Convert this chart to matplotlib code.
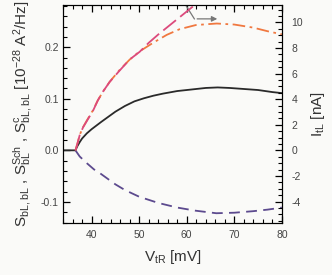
import matplotlib
matplotlib.use('Agg')
import matplotlib.pyplot as plt
from matplotlib.ticker import MultipleLocator

plt.rcParams['font.family'] = ['Liberation Sans', 'DejaVu Sans']
plt.rcParams['mathtext.fontset'] = 'custom'
plt.rcParams['mathtext.rm'] = 'Liberation Sans'
plt.rcParams['mathtext.default'] = 'regular'
plt.rcParams['axes.unicode_minus'] = False

# Data
v_black = [34.0, 36.6, 37.0, 37.5, 38.0, 39.0, 40.0, 41.0, 42.0, 43.5, 45.0, 47.0, 49.0,
           51.0, 53.0, 55.0, 58.0, 61.0, 64.0, 66.5, 69.0, 72.0, 75.0, 78.0, 80.0]
s_black = [0.0, 0.0, 0.008, 0.016, 0.023, 0.033, 0.041, 0.048, 0.055, 0.065, 0.075, 0.086, 0.095,
           0.101, 0.106, 0.110, 0.115, 0.118, 0.121, 0.122, 0.121, 0.119, 0.117, 0.113, 0.111]

v_purple = [36.6, 37.5, 39.0, 40.5, 41.7, 43.5, 45.0, 47.0, 50.0, 54.0, 58.0,
            61.8, 66.2, 70.0, 74.0, 77.0, 80.0]
s_purple = [0.0, -0.012, -0.025, -0.037, -0.044, -0.056, -0.066, -0.077, -0.090, -0.102, -0.111,
            -0.117, -0.122, -0.121, -0.118, -0.115, -0.111]

v_orange = [36.6, 37.0, 37.5, 38.2, 39.0, 40.3, 41.3, 42.4, 43.8, 45.8, 48.0, 50.1, 53.0,
            55.8, 58.5, 61.9, 66.3, 70.0, 74.0, 77.0, 80.0]
s_orange = [0.0, 0.013, 0.030, 0.045, 0.058, 0.078, 0.097, 0.114, 0.133, 0.155, 0.176, 0.192, 0.209,
            0.224, 0.235, 0.243, 0.246, 0.244, 0.238, 0.231, 0.225]

v_pink = [36.6, 37.0, 37.5, 38.2, 39.0, 40.3, 41.3, 42.4, 43.8, 45.8, 48.0, 50.1,
          52.0, 54.0, 56.0, 58.0, 60.0, 62.0]
i_pink = [0.0, 0.5, 1.2, 1.8, 2.3, 3.1, 3.9, 4.6, 5.35, 6.2, 7.1, 7.7,
          8.4, 9.05, 9.65, 10.25, 10.85, 11.45]

# Plot
fig = plt.figure(figsize=(3.32, 2.75), dpi=100, facecolor='#fafaf8')
ax = fig.add_axes([0.19, 0.189, 0.659, 0.793])
ax.set_facecolor('#fafaf8')
ax2 = ax.twinx()

ax.plot(v_black, s_black, color='#2a2a2a', lw=1.3)
ax.plot(v_purple, s_purple, color='#5c4a8e', lw=1.3, dashes=(6, 3.5))
ax.plot(v_orange, s_orange, color='#f07840', lw=1.3, dashes=(7, 2.5, 1.5, 2.5))
ax2.plot(v_pink, i_pink, color='#dc4a7c', lw=1.3, dashes=(9, 3))

ax.set_xlim(34, 80)
ax.set_ylim(-0.141, 0.282)
ax2.set_ylim(-5.67, 11.36)

ax.xaxis.set_major_locator(MultipleLocator(10))
ax.xaxis.set_minor_locator(MultipleLocator(2))
ax.yaxis.set_major_locator(MultipleLocator(0.1))
ax.yaxis.set_minor_locator(MultipleLocator(0.02))
ax2.yaxis.set_major_locator(MultipleLocator(2))
ax2.yaxis.set_minor_locator(MultipleLocator(0.5))
ax.set_yticks([-0.1, 0.0, 0.1, 0.2])
ax.set_yticklabels(['-0.1', '0.0', '0.1', '0.2'])
ax2.set_yticks([-4, -2, 0, 2, 4, 6, 8, 10])

ax.tick_params(axis='x', which='both', direction='in', top=True, bottom=True,
               labelsize=7.5, labelcolor='#444444', pad=5)
ax.tick_params(axis='y', which='both', direction='in', left=True, right=False,
               labelsize=7.5, labelcolor='#444444', pad=3)
ax2.tick_params(axis='y', which='both', direction='in', right=True,
                labelsize=7.5, labelcolor='#444444', pad=7)
for a in (ax, ax2):
    a.tick_params(which='major', length=5, width=0.9)
    a.tick_params(which='minor', length=3, width=0.8)

ax.set_xlabel(r'V$_{tR}$ [mV]', fontsize=11, color='#333333', labelpad=6)
ax.set_ylabel(r'S$_{bL,bL}$ , S$^{Sch}_{bL}$ , S$^{c}_{bL,bL}$ [10$^{-28}$ A$^2$/Hz]',
              fontsize=11, color='#333333', labelpad=4)
ax2.set_ylabel(r'I$_{tL}$ [nA]', fontsize=11, color='#333333', labelpad=4)

# Arrow pointing from the pink curve to the right axis
ax.plot([59.9, 61.6], [0.28, 0.255], color='#777777', lw=0.9)
ax.annotate('', xy=(67.0, 0.255), xytext=(61.6, 0.255),
            arrowprops=dict(arrowstyle='-|>', color='#777777', lw=0.9, mutation_scale=8))

plt.savefig('out.png', dpi=100, facecolor=fig.get_facecolor())
